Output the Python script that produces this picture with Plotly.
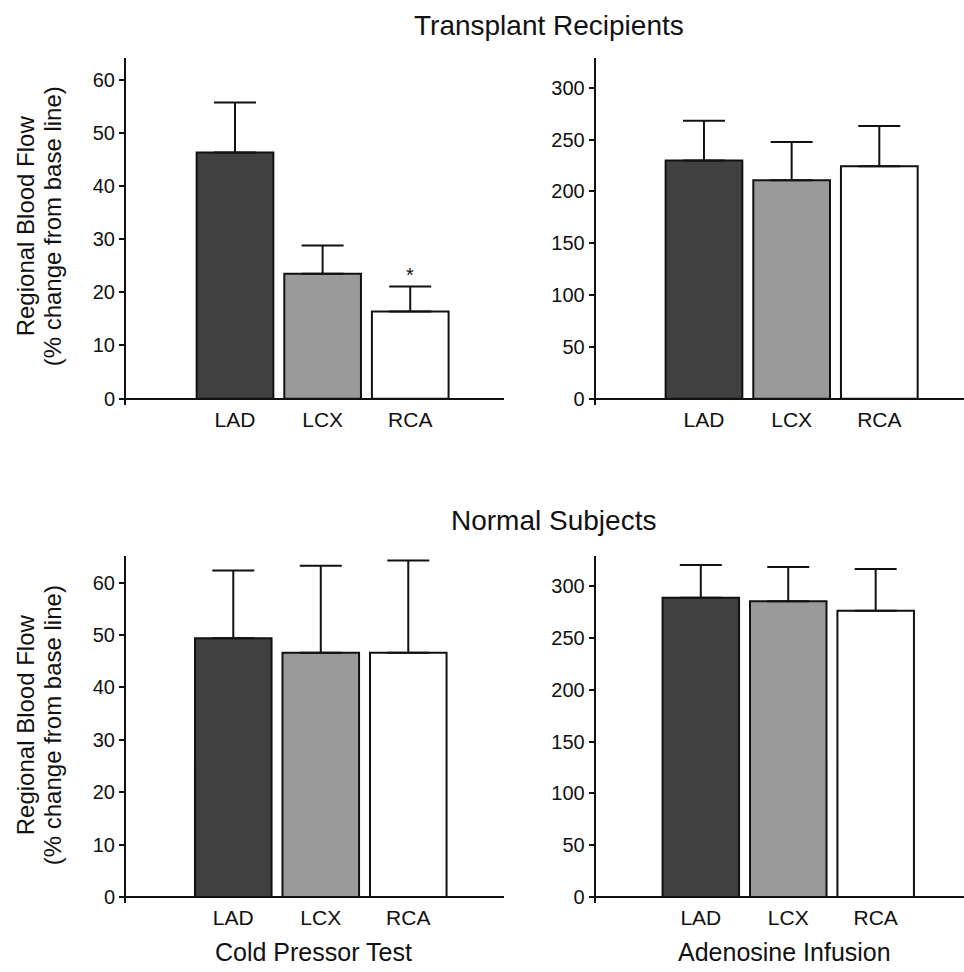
import plotly.graph_objects as go

# ---- data ----
categories = ["LAD", "LCX", "RCA"]
cat_pos = [0, 1, 2]
bar_colors = ["#404040", "#9a9a9a", "#ffffff"]

transplant_cold = [46.3, 23.5, 16.4]
transplant_cold_sem = [9.4, 5.3, 4.7]
transplant_aden = [229.9, 210.7, 224.4]
transplant_aden_sem = [38.4, 37.1, 38.7]
normal_cold = [49.4, 46.6, 46.6]
normal_cold_sem = [12.9, 16.6, 17.6]
normal_aden = [288.8, 285.6, 276.3]
normal_aden_sem = [31.7, 32.9, 40.3]

row_titles = ["Transplant Recipients", "Normal Subjects"]
col_titles = ["Cold Pressor Test", "Adenosine Infusion"]
ytitle_lines = ["Regional Blood Flow", "(% change from base line)"]
cold_ticks = [0, 10, 20, 30, 40, 50, 60]
aden_ticks = [0, 50, 100, 150, 200, 250, 300]

W, H = 964, 972
FONT = "Liberation Sans, Arial, sans-serif"

def px_x(p):
    return p / W

def px_y(p):
    return 1 - p / H

panels = [
    # (values, sem, axis suffix, xdomain px, ydomain px, xrange, yrange, ticks)
    (transplant_cold, transplant_cold_sem, "", (126, 504), (58, 406.7), [-1.244, 3.07], [-1.12, 64.1], cold_ticks),
    (transplant_aden, transplant_aden_sem, "2", (595.7, 964), (58, 406.7), [-1.235, 2.966], [-5.76, 329.1], aden_ticks),
    (normal_cold, normal_cold_sem, "3", (126, 504), (559.3, 907.7), [-1.226, 3.094], [-1.14, 65.0], cold_ticks),
    (normal_aden, normal_aden_sem, "4", (595.7, 964), (559.3, 907.7), [-1.202, 3.01], [-5.76, 328.8], aden_ticks),
]

fig = go.Figure()
layout = dict(
    width=W, height=H,
    margin=dict(l=0, r=0, t=0, b=0),
    paper_bgcolor="white", plot_bgcolor="white",
    showlegend=False,
    font=dict(family=FONT, color="#111111"),
    bargap=0,
)

for vals, sem, sfx, xd, yd, xr, yr, ticks in panels:
    xa = "x" + sfx
    ya = "y" + sfx
    fig.add_trace(go.Bar(
        x=cat_pos, y=vals, width=0.875,
        marker=dict(color=bar_colors, line=dict(color="#111111", width=2)),
        error_y=dict(type="data", symmetric=False, array=sem,
                     arrayminus=[0, 0, 0], color="#111111",
                     thickness=2, width=21),
        xaxis=xa, yaxis=ya, hoverinfo="skip",
    ))
    layout["xaxis" + sfx] = dict(
        domain=[px_x(xd[0]), px_x(xd[1])], range=xr, anchor=ya,
        tickmode="array", tickvals=cat_pos, ticktext=categories,
        showline=False, showgrid=False, zeroline=False, ticks="",
        tickfont=dict(size=21, family=FONT, color="#111111"),
        fixedrange=True,
    )
    layout["yaxis" + sfx] = dict(
        domain=[px_y(yd[1]), px_y(yd[0])], range=yr, anchor=xa,
        tickmode="array", tickvals=ticks,
        showline=True, linecolor="#111111", linewidth=2,
        showgrid=False, zeroline=True, zerolinecolor="#111111", zerolinewidth=2,
        ticks="outside", ticklen=5, tickwidth=2, tickcolor="#111111",
        tickfont=dict(size=20, family=FONT, color="#111111"),
        fixedrange=True,
    )

annotations = []
# significance star over transplant RCA (cold pressor)
annotations.append(dict(
    x=cat_pos[2], y=transplant_cold[2] + transplant_cold_sem[2],
    xref="x", yref="y", text="*", showarrow=False,
    yanchor="bottom", xanchor="center", yshift=-2,
    font=dict(size=20, family=FONT, color="#111111"),
))
# row titles
annotations.append(dict(x=px_x(549), y=px_y(26), xref="paper", yref="paper",
                        text=row_titles[0], showarrow=False,
                        xanchor="center", yanchor="middle",
                        font=dict(size=28, family=FONT, color="#111111")))
annotations.append(dict(x=px_x(553), y=px_y(523), xref="paper", yref="paper",
                        text=row_titles[1], showarrow=False,
                        xanchor="center", yanchor="middle",
                        font=dict(size=28, family=FONT, color="#111111")))
# column titles
annotations.append(dict(x=px_x(313), y=px_y(957), xref="paper", yref="paper",
                        text=col_titles[0], showarrow=False,
                        xanchor="center", yanchor="middle",
                        font=dict(size=25, family=FONT, color="#111111")))
annotations.append(dict(x=px_x(784), y=px_y(957), xref="paper", yref="paper",
                        text=col_titles[1], showarrow=False,
                        xanchor="center", yanchor="middle",
                        font=dict(size=25, family=FONT, color="#111111")))
# y-axis titles
for yc in (227.5, 729):
    for xc, line in zip((25, 52), ytitle_lines):
        annotations.append(dict(x=px_x(xc), y=px_y(yc), xref="paper", yref="paper",
                                text=line, showarrow=False, textangle=-90,
                                xanchor="center", yanchor="middle",
                                font=dict(size=24, family=FONT, color="#111111")))

layout["annotations"] = annotations
fig.update_layout(**layout)
fig.write_html("out.html",
               config={"displayModeBar": False, "staticPlot": True},
               post_script="document.body.style.margin='0px';document.body.style.overflow='hidden';")
